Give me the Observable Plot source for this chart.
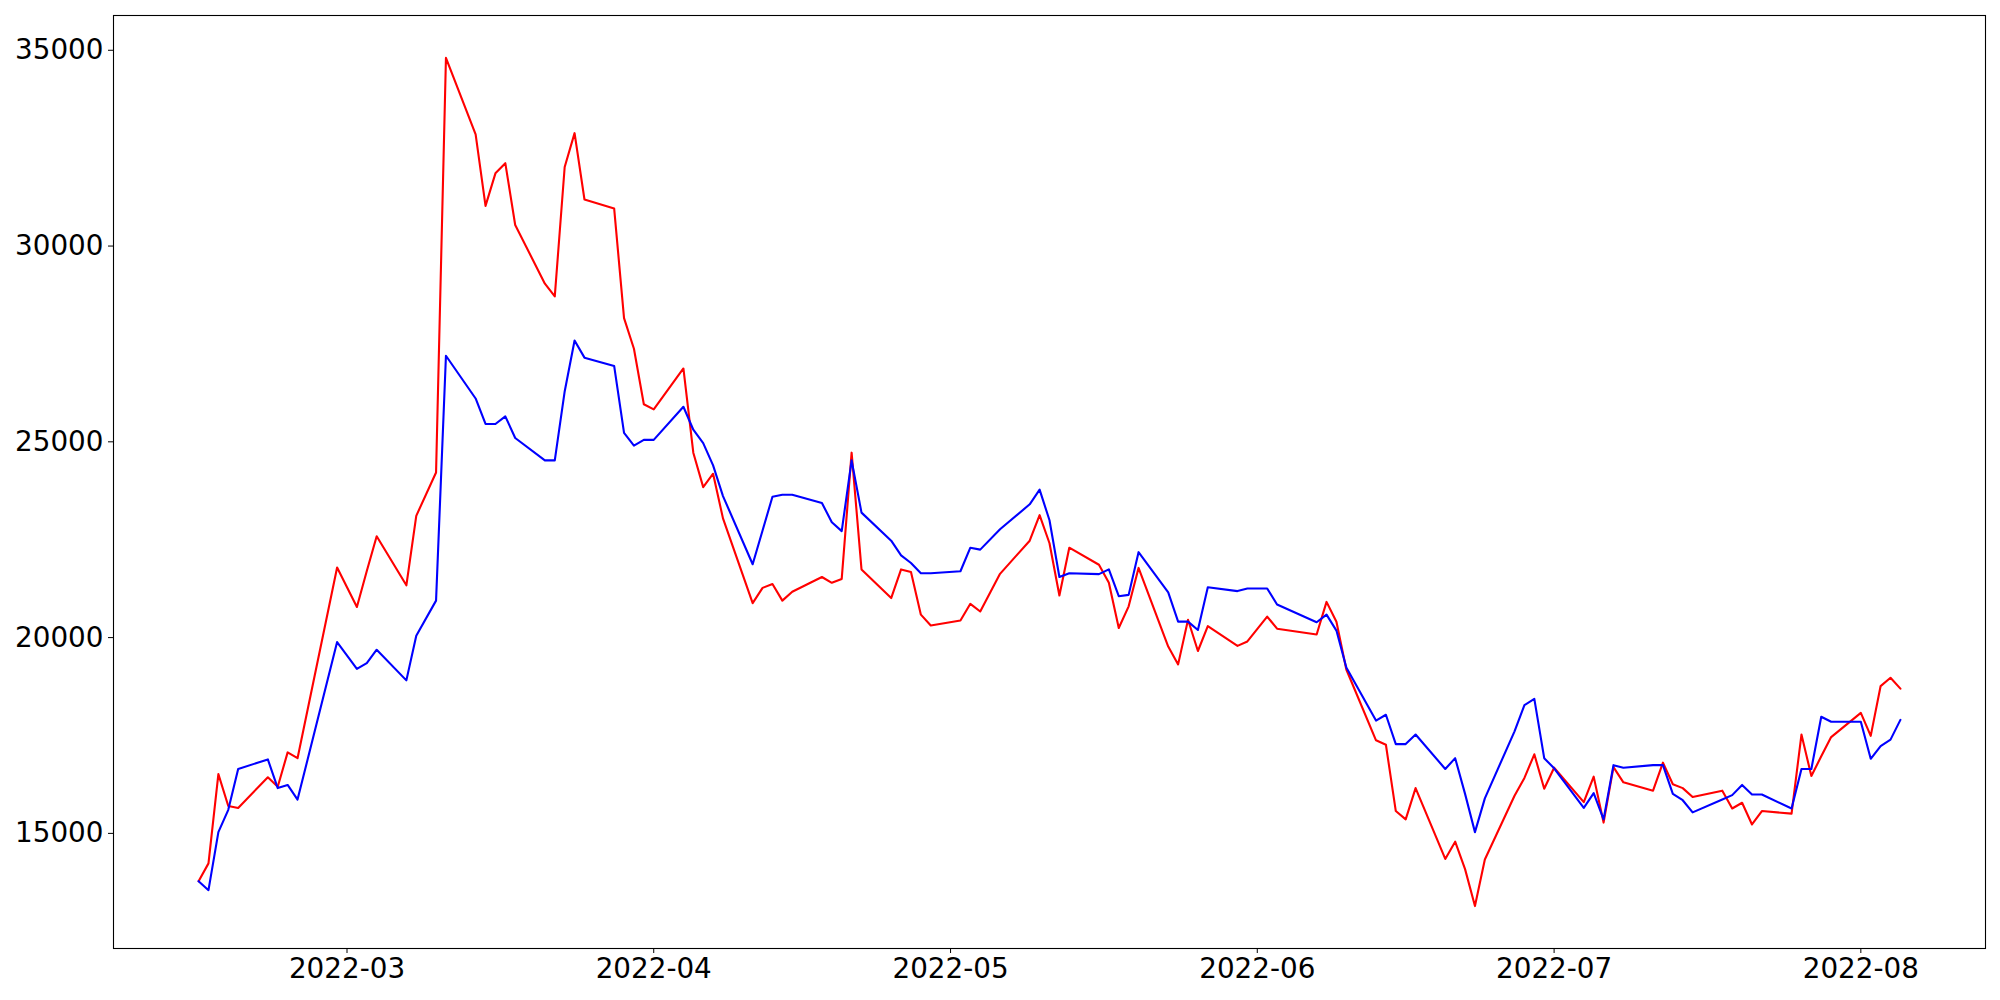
<!DOCTYPE html>
<html>
<head>
<meta charset="utf-8">
<script src="https://cdn.jsdelivr.net/npm/d3@7"></script>
<script src="https://cdn.jsdelivr.net/npm/@observablehq/plot@0.6"></script>
<style>
  html, body { margin: 0; padding: 0; background: #ffffff; }
  #chart svg { display: block; }
</style>
</head>
<body>
<div id="chart"></div>
<script>
const dates = [
  "2022-02-14","2022-02-15","2022-02-16","2022-02-17","2022-02-18",
  "2022-02-21","2022-02-22","2022-02-23","2022-02-24","2022-02-28",
  "2022-03-02","2022-03-03","2022-03-04","2022-03-07","2022-03-08",
  "2022-03-10","2022-03-11","2022-03-14","2022-03-15","2022-03-16",
  "2022-03-17","2022-03-18","2022-03-21","2022-03-22","2022-03-23",
  "2022-03-24","2022-03-25","2022-03-28","2022-03-29","2022-03-30",
  "2022-03-31","2022-04-01","2022-04-04","2022-04-05","2022-04-06",
  "2022-04-07","2022-04-08","2022-04-11","2022-04-12","2022-04-13",
  "2022-04-14","2022-04-15","2022-04-18","2022-04-19","2022-04-20",
  "2022-04-21","2022-04-22","2022-04-25","2022-04-26","2022-04-27",
  "2022-04-28","2022-04-29","2022-05-02","2022-05-03","2022-05-04",
  "2022-05-06","2022-05-09","2022-05-10","2022-05-11","2022-05-12",
  "2022-05-13","2022-05-16","2022-05-17","2022-05-18","2022-05-19",
  "2022-05-20","2022-05-23","2022-05-24","2022-05-25","2022-05-26",
  "2022-05-27","2022-05-30","2022-05-31","2022-06-02","2022-06-03",
  "2022-06-07","2022-06-08","2022-06-09","2022-06-10","2022-06-13",
  "2022-06-14","2022-06-15","2022-06-16","2022-06-17","2022-06-20",
  "2022-06-21","2022-06-22","2022-06-23","2022-06-24","2022-06-27",
  "2022-06-28","2022-06-29","2022-06-30","2022-07-01","2022-07-04",
  "2022-07-05","2022-07-06","2022-07-07","2022-07-08","2022-07-11",
  "2022-07-12","2022-07-13","2022-07-14","2022-07-15","2022-07-18",
  "2022-07-19","2022-07-20","2022-07-21","2022-07-22","2022-07-25",
  "2022-07-26","2022-07-27","2022-07-28","2022-07-29","2022-08-01",
  "2022-08-02","2022-08-03","2022-08-04","2022-08-05"
];

const redValues = [
  13778,14234,16514,15700,15650,
  16433,16189,17068,16921,21791,
  20781,21700,22589,21335,23110,
  24218,34805,32850,31026,31857,
  32117,30537,29039,28713,32019,
  32883,31189,30961,28159,27378,
  25961,25830,26873,24723,23843,
  24185,23045,20879,21270,21368,
  20944,21172,21547,21400,21498,
  24723,21742,21009,21742,21677,
  20586,20309,20439,20863,20667,
  21628,22475,23127,22410,21075,
  22296,21860,21400,20244,20798,
  21780,19772,19316,20456,19658,
  20293,19788,19902,20537,20228,
  20081,20912,20407,19185,17377,
  17263,15570,15358,16156,14348,
  14788,14087,13143,14332,15960,
  16417,17019,16140,16677,15798,
  16449,15276,16693,16303,16091,
  16807,16254,16156,15928,16091,
  15635,15782,15228,15570,15505,
  17524,16465,16970,17459,18078,
  17491,18762,18973,18697
];

const blueValues = [
  13778,13550,15032,15602,16645,
  16889,16156,16237,15863,19886,
  19202,19349,19690,18908,20049,
  20944,27199,26107,25456,25456,
  25651,25098,24527,24527,26286,
  27589,27150,26938,25228,24902,
  25049,25049,25896,25309,24967,
  24397,23615,21873,22736,23599,
  23648,23648,23436,22948,22720,
  24527,23192,22475,22101,21905,
  21645,21645,21694,22296,22247,
  22768,23404,23778,22996,21547,
  21645,21620,21742,21058,21091,
  22182,21156,20407,20407,20195,
  21286,21188,21254,21254,20847,
  20391,20586,20179,19234,17882,
  18029,17280,17280,17524,16645,
  16921,16009,15032,15895,17606,
  18273,18436,16921,16661,15651,
  16026,15358,16742,16677,16742,
  16742,16009,15847,15537,15863,
  15977,16237,15993,15993,15635,
  16645,16645,17980,17850,17850,
  16905,17231,17394,17899
];

const xTickDates = ["2022-03-01","2022-04-01","2022-05-01","2022-06-01","2022-07-01","2022-08-01"];
const yTickValues = [15000, 20000, 25000, 30000, 35000];

const parse = d3.utcParse("%Y-%m-%d");
const rows = dates.map((d, i) => ({date: parse(d), red: redValues[i], blue: blueValues[i]}));

// matplotlib-style 5% autoscale margins
const [xMin, xMax] = d3.extent(rows, d => d.date);
const xPad = (xMax - xMin) * 0.05;
const [yMin, yMax] = d3.extent(redValues.concat(blueValues));
const yPad = (yMax - yMin) * 0.05;

const chart = Plot.plot({
  width: 2000,
  height: 1000,
  marginLeft: 113,
  marginRight: 15,
  marginTop: 15,
  marginBottom: 52,
  style: {fontFamily: "DejaVu Sans", fontSize: "27.8px", color: "black", background: "white", overflow: "visible"},
  x: {type: "utc", domain: [new Date(+xMin - xPad), new Date(+xMax + xPad)]},
  y: {domain: [yMin - yPad, yMax + yPad]},
  marks: [
    Plot.line(rows, {x: "date", y: "red", stroke: "#ff0000", strokeWidth: 2.1}),
    Plot.line(rows, {x: "date", y: "blue", stroke: "#0000ff", strokeWidth: 2.1}),
    Plot.frame({stroke: "black", strokeWidth: 1.1}),
    Plot.axisX({ticks: xTickDates.map(parse), tickFormat: d3.utcFormat("%Y-%m"), tickSize: 5, tickPadding: 5, fontSize: 27.8, label: null}),
    Plot.axisY({ticks: yTickValues, tickFormat: d3.format("d"), tickSize: 5, tickPadding: 5, fontSize: 27.8, label: null})
  ]
});
document.getElementById("chart").appendChild(chart);
</script>
</body>
</html>
